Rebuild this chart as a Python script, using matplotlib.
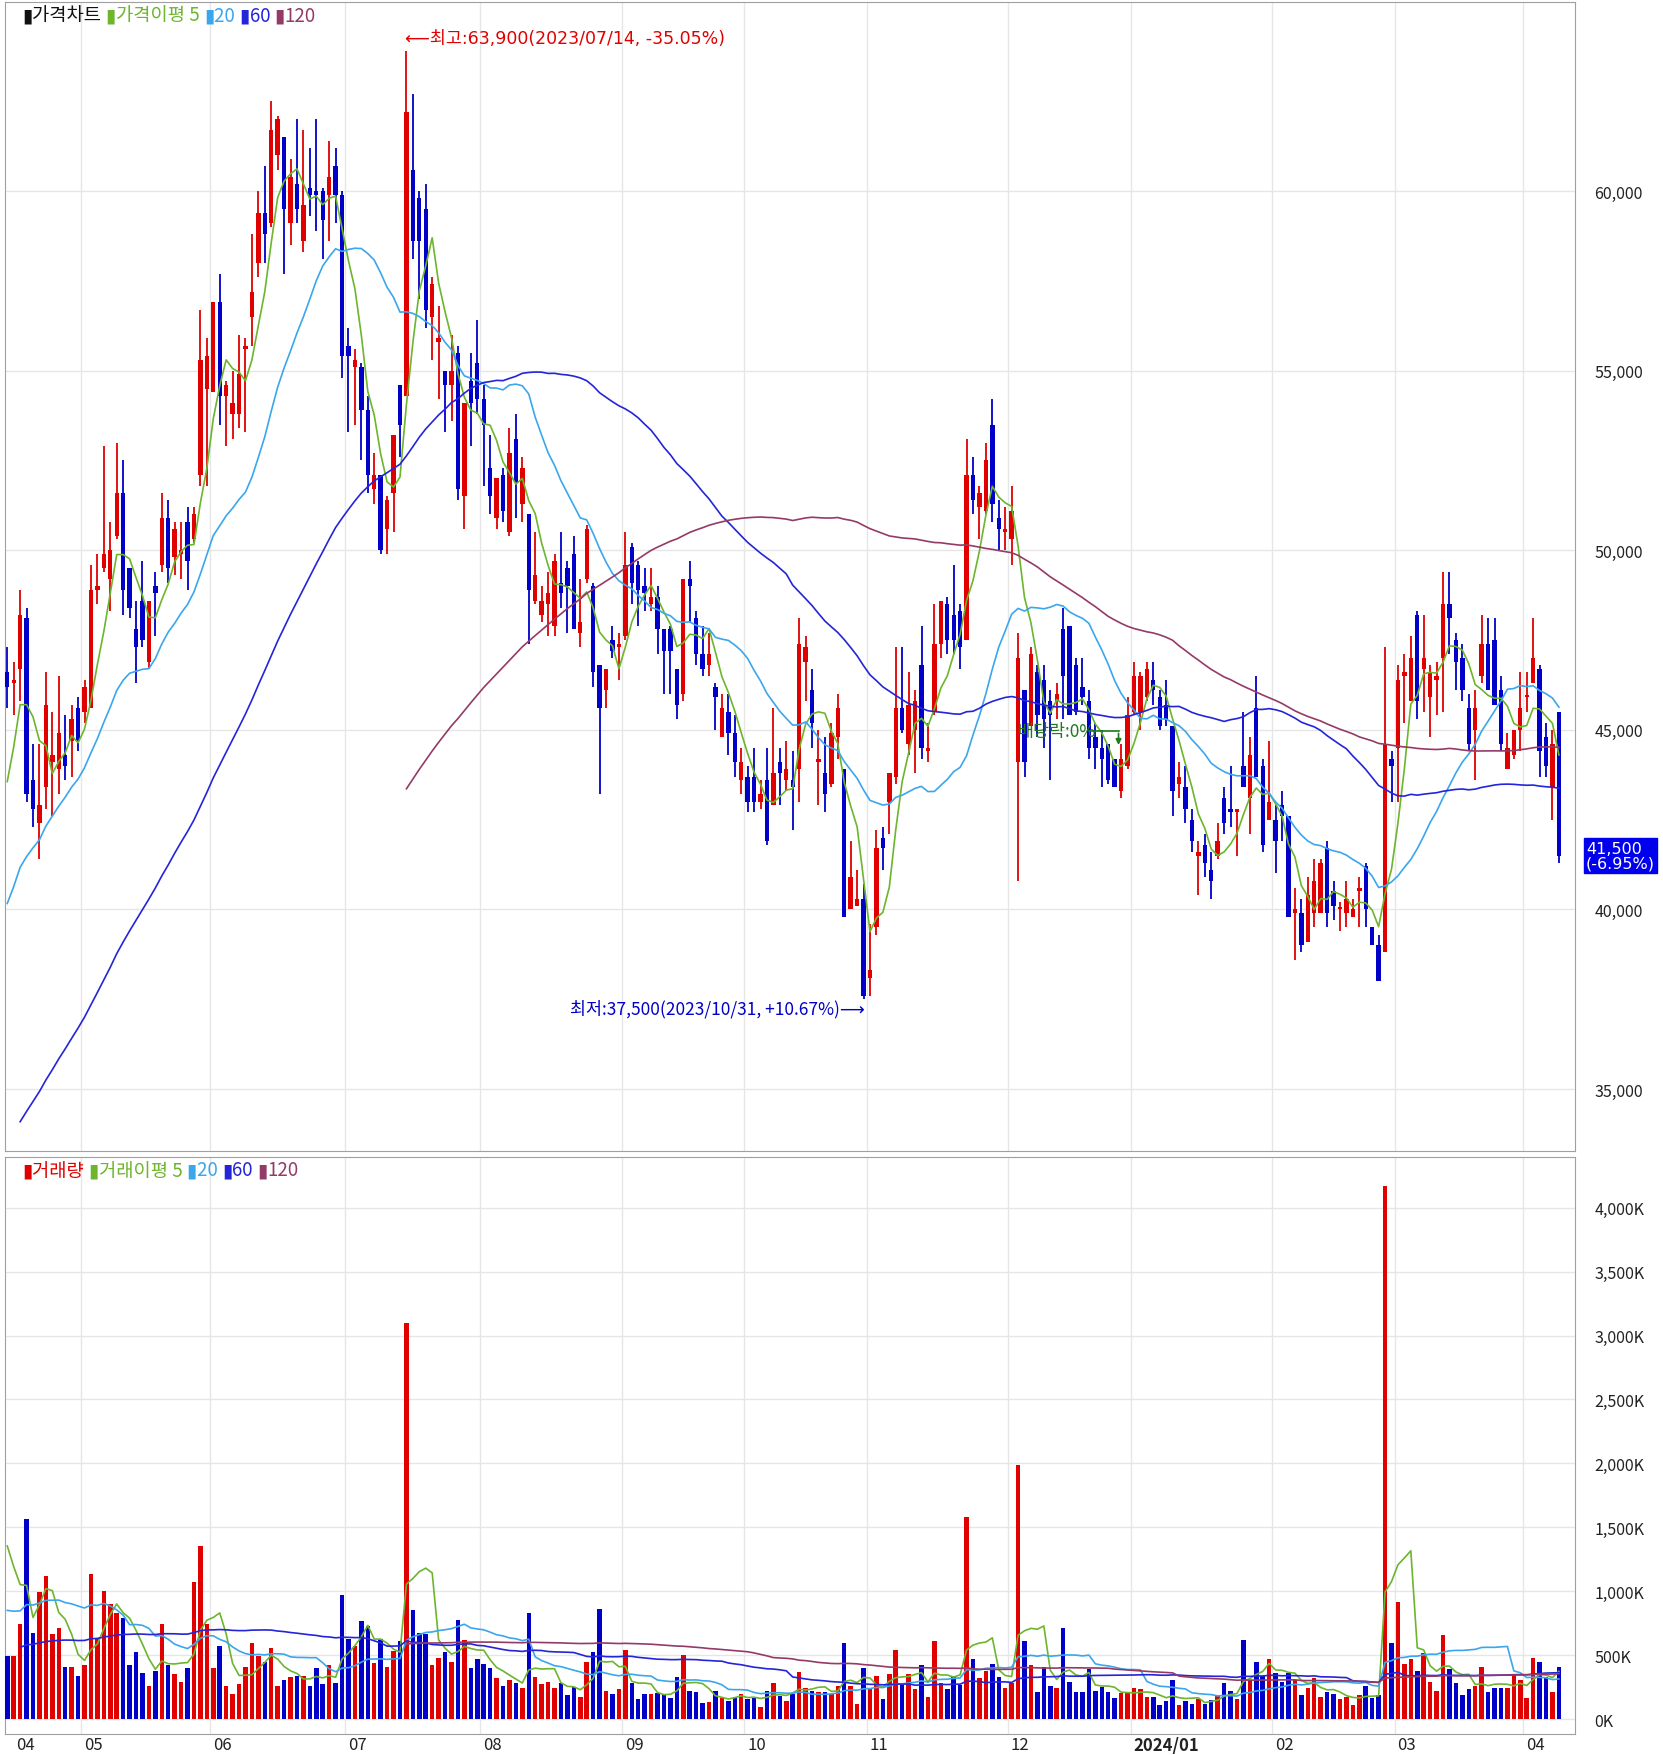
import matplotlib
matplotlib.use("Agg")
import matplotlib.pyplot as plt
import matplotlib.transforms as mtransforms
import numpy as np
import pandas as pd

plt.rcParams['font.family'] = ['Noto Sans CJK KR', 'DejaVu Sans']

# ---------------- data (prices in thousand KRW, volume in K shares) ----------------
pre_close = [26.0,26.3,26.1,26.6,27.0,26.8,27.3,27.7,27.5,28.0,28.4,28.2,28.8,29.1,28.9,29.4,29.8,29.6,30.1,30.5,
             30.3,30.8,31.2,31.0,31.5,31.9,31.7,32.2,32.6,32.4,32.9,33.3,33.1,33.6,34.0,33.8,34.3,34.7,
             37.0,37.5,37.2,37.9,38.4,38.1,38.8,39.3,39.0,39.7,40.2,39.9,40.6,41.1,40.8,41.6,42.3,43.2,44.5]
pre_volume = [350,420,380,460,390,410,300,440,520,370,360,450,400,380,430,470,350,390,410,440,
              380,360,420,400,450,390,370,410,430,380,420,400,440,390,410,370,430,420,
              620,700,580,750,660,720,640,690,800,610,680,730,650,710,690,1300,1450,1600,1930]

opens = [46.6,46.3,46.7,48.1,43.6,42.4,43.4,44.1,43.9,44.3,44.7,45.6,45.5,45.6,48.9,49.5,49.2,50.4,51.6,49.5,
 47.8,48.6,46.9,49.0,49.6,50.9,49.8,49.9,50.8,50.3,52.1,54.5,54.4,56.9,54.3,53.8,53.8,55.6,56.5,58.0,
 59.4,59.1,61.0,61.5,59.1,60.2,58.6,60.1,60.0,60.0,59.9,60.7,59.9,55.7,55.1,55.1,53.9,51.7,52.1,50.6,
 51.6,54.6,54.3,
 60.6,59.8,59.5,56.5,55.8,55.0,54.6,55.5,51.5,54.7,55.2,54.2,52.3,50.9,52.1,50.5,53.1,51.3,51.0,48.6,
 48.2,48.5,47.9,49.1,49.5,49.9,47.7,49.2,49.0,46.8,46.1,47.5,47.3,47.6,50.1,49.6,49.0,48.5,48.7,47.8,
 47.8,46.7,46.0,49.2,48.1,47.1,46.8,46.2,44.8,45.5,44.9,43.6,43.7,43.7,43.0,43.6,42.9,44.1,43.6,43.6,
 43.9,46.9,46.1,44.1,
 43.8,43.5,44.8,43.9,40.0,40.1,40.3,38.1,39.5,42.0,43.0,43.7,45.6,44.6,45.0,46.8,44.4,45.5,47.4,48.5,
 48.2,48.3,47.5,52.1,51.2,51.1,53.5,50.9,50.5,50.3,44.1,46.1,45.1,46.6,46.4,45.8,45.8,47.8,47.9,46.8,
 46.2,45.8,44.8,44.5,44.6,44.2,43.3,44.0,45.5,45.5,45.9,46.4,45.9,45.7,45.1,43.5,43.4,42.5,41.5,41.8,
 41.1,41.5,
 43.1,42.8,42.7,44.0,43.1,45.6,44.0,42.5,42.5,42.9,42.6,39.9,39.9,39.1,39.9,39.9,41.7,40.5,40.0,39.9,
 39.8,40.5,41.2,39.5,39.0,38.8,44.2,44.5,46.5,45.8,48.2,46.7,45.9,46.4,47.0,48.5,47.5,47.0,45.6,45.0,
 46.5,47.4,47.5,46.1,43.9,44.3,45.0,45.9,46.3,46.7,44.8,43.4,45.5]
highs = [47.3,46.9,48.9,48.4,44.6,44.6,46.6,45.5,46.5,45.4,45.7,45.9,46.4,49.6,49.9,52.9,50.8,53.0,52.5,49.5,
 48.6,49.7,48.6,49.4,51.6,51.4,50.8,50.8,51.2,51.2,56.7,55.9,56.9,57.7,54.7,55.0,56.0,55.9,58.8,60.0,
 60.7,62.5,62.1,61.5,60.9,62.0,61.7,61.2,62.0,60.1,61.4,61.2,60.0,56.2,55.6,55.2,54.3,52.7,52.1,51.5,
 53.2,54.6,63.9,
 62.7,60.0,60.2,57.6,56.8,55.0,56.0,55.7,54.1,55.5,56.4,54.6,53.2,52.0,52.3,53.4,53.8,52.6,51.0,50.5,
 49.0,49.4,49.9,50.5,49.7,50.4,49.2,50.7,49.1,46.8,46.7,47.9,47.7,50.5,50.2,49.7,49.5,49.5,49.0,47.8,
 47.9,46.7,49.2,49.7,48.3,47.9,47.7,46.3,46.0,46.0,45.4,44.5,44.0,44.5,43.6,44.5,45.6,44.5,44.7,44.4,
 48.1,47.6,46.7,45.0,
 44.8,45.2,46.0,43.9,41.9,41.1,40.7,39.6,42.2,42.3,43.8,47.3,47.3,46.6,46.1,47.9,45.2,48.5,48.6,48.7,
 49.6,48.5,53.1,52.6,51.8,53.0,54.2,51.4,51.2,51.8,47.7,46.1,47.3,46.8,46.8,46.1,46.3,48.4,47.9,47.0,
 47.0,46.1,45.2,45.0,44.6,44.2,44.6,45.9,46.9,46.6,46.9,46.9,46.1,46.4,45.1,44.1,44.0,42.8,41.9,42.1,
 41.6,42.4,
 43.4,44.0,42.8,45.5,44.8,46.5,44.2,44.7,42.9,43.3,42.6,40.6,40.3,40.9,41.4,41.4,41.9,40.8,40.2,40.8,
 40.3,40.9,41.3,39.5,39.3,47.3,44.4,46.8,47.1,47.6,48.3,48.2,46.8,46.9,49.4,49.4,47.7,47.4,46.0,46.1,
 48.2,48.1,48.1,46.5,44.9,45.0,46.6,46.6,48.1,46.8,45.2,45.0,45.5]
lows = [45.6,45.4,45.8,43.0,42.3,41.4,42.8,42.6,43.2,43.6,43.7,44.4,45.2,45.6,48.5,49.4,48.3,50.3,48.2,48.1,
 46.3,47.3,46.7,47.6,49.4,49.1,49.3,49.2,48.9,50.2,51.8,51.8,54.4,53.5,52.9,53.1,53.4,53.3,55.7,57.6,
 58.0,59.0,60.6,57.7,58.5,59.1,58.3,59.3,58.9,58.1,58.6,59.1,54.8,53.3,53.5,52.5,51.6,51.3,49.9,49.9,
 50.5,52.6,54.3,
 58.1,57.0,56.2,55.3,54.2,53.3,53.6,51.4,50.6,52.9,53.8,51.8,51.0,50.6,50.8,50.4,50.9,50.8,47.4,48.5,
 48.0,47.6,47.6,48.4,47.7,47.8,47.3,49.1,46.2,43.2,45.6,47.0,46.4,47.5,48.5,47.9,48.3,48.3,47.1,46.0,
 46.0,45.3,45.8,48.0,46.8,46.5,46.5,45.0,44.8,44.3,43.7,43.2,42.7,42.7,42.8,41.8,42.9,42.9,43.3,42.2,
 43.0,45.8,44.5,42.9,
 42.7,43.4,44.2,39.8,40.0,40.1,37.5,37.6,39.3,41.1,42.1,43.5,44.9,44.3,43.8,44.2,44.1,45.4,47.0,47.1,
 47.1,46.7,47.5,51.0,50.3,51.0,50.8,50.0,50.0,49.6,40.8,43.7,45.1,44.8,44.5,43.6,45.3,45.3,45.4,45.4,
 45.7,44.2,43.9,43.4,43.5,43.4,43.1,43.9,45.4,45.0,45.8,45.7,45.0,45.1,42.6,43.1,42.4,41.6,40.4,40.9,
 40.3,41.4,
 42.1,42.3,41.5,43.4,42.1,43.7,41.6,42.5,41.0,41.9,39.8,38.6,38.8,39.1,39.5,39.9,39.5,39.7,39.4,39.5,
 39.8,39.5,39.5,39.0,38.0,38.8,43.0,43.0,45.2,45.8,45.3,45.5,44.8,45.4,45.5,47.1,46.1,45.8,44.4,43.6,
 46.3,46.1,45.7,44.4,43.9,44.2,44.4,45.5,46.3,43.7,43.7,42.5,41.3]
closes = [46.2,46.4,48.2,43.2,42.8,42.9,45.7,44.3,44.9,44.0,45.3,44.7,46.2,48.9,49.0,49.9,50.0,51.6,48.9,48.4,
 47.3,47.5,48.6,48.8,50.9,49.5,50.6,50.0,49.7,51.0,55.3,55.4,56.9,54.3,54.6,54.1,54.9,55.7,57.2,59.4,
 58.8,61.7,62.0,59.5,60.4,59.5,59.6,59.9,59.9,59.2,60.4,59.9,55.4,55.4,55.3,53.9,52.1,52.1,50.0,51.4,
 53.2,53.5,62.2,
 58.6,58.6,56.7,57.4,55.9,54.6,55.0,51.7,54.1,54.1,54.2,53.5,51.5,52.0,51.1,52.7,51.9,52.3,48.9,49.3,
 48.6,48.8,49.7,48.8,49.0,47.8,48.0,50.6,46.6,45.6,46.7,47.2,47.4,49.6,49.1,48.9,48.8,48.7,47.8,47.2,
 47.2,45.7,49.2,49.0,47.1,46.7,47.1,45.9,45.6,44.9,44.1,44.1,43.0,43.0,43.2,41.9,43.8,43.8,43.9,43.4,
 47.4,47.3,45.2,44.2,
 43.2,44.9,45.6,39.8,40.9,40.3,37.6,38.3,41.7,41.7,43.8,45.6,45.0,45.7,45.8,44.5,44.5,47.4,48.6,47.5,
 47.5,47.3,52.1,51.4,51.6,52.5,51.3,50.6,50.6,51.1,47.0,44.1,47.1,45.4,45.3,45.4,46.0,46.5,45.4,45.5,
 45.9,44.5,44.5,44.2,43.6,43.4,44.2,45.4,46.5,46.5,46.7,46.1,45.1,45.3,43.3,43.7,42.8,41.9,41.6,41.3,
 40.8,41.9,
 42.4,42.7,42.8,43.4,44.3,43.7,41.8,43.0,41.9,42.6,39.8,40.0,39.0,40.4,40.8,41.3,39.9,40.1,40.0,40.3,
 40.0,40.6,40.0,39.0,38.0,44.6,44.0,46.4,46.6,47.0,45.8,47.0,46.6,46.5,48.5,48.1,46.9,46.1,44.6,45.6,
 47.4,46.1,45.7,44.6,44.5,45.0,45.6,45.9,47.0,44.4,44.0,44.6,41.5]
volume = [492,492,746,1567,676,992,1122,666,712,409,409,339,422,1132,635,1003,899,832,790,422,
 526,363,259,376,746,422,352,293,396,1075,1355,746,402,573,259,199,272,409,596,495,
 443,552,259,306,326,339,339,259,402,272,422,280,972,630,570,764,728,435,630,409,531,609,3100,
 850,676,668,422,479,526,443,772,622,396,469,433,402,319,259,306,280,246,829,329,
 272,293,246,280,189,254,176,443,526,863,223,199,236,539,280,153,199,199,205,199,
 168,329,500,223,212,122,130,223,163,145,176,199,158,176,96,223,280,181,142,194,370,246,223,210,
 210,194,259,596,259,119,396,236,339,153,352,539,267,352,236,422,176,609,280,236,
 339,267,1580,469,319,376,433,329,246,280,1990,609,422,212,409,259,246,712,293,212,
 212,391,223,254,212,163,202,202,246,233,176,176,106,142,306,106,142,119,158,119,150,189,
 280,223,153,622,306,443,339,469,363,293,363,306,189,246,319,176,212,199,153,176,
 106,189,259,163,189,4170,596,914,433,469,376,513,293,223,655,389,280,189,236,259,
 409,212,246,246,246,350,306,163,479,443,326,212,409]

month_pos = [1.0, 11.5, 31.5, 52.5, 73.5, 95.5, 114.5, 133.5, 155.5, 174.5, 196.5, 215.5, 235.5]
month_labels = ["04", "05", "06", "07", "08", "09", "10", "11", "12", "2024/01", "02", "03", "04"]
ma_periods = [5, 20, 60, 120]
ma_colors = ['#6cb52d', '#3aa6ee', '#2424d8', '#943a66']
RED, BLUE = '#e00000', '#0000c8'

# ---------------- derived ----------------
o = np.array(opens) * 1000; h = np.array(highs) * 1000
l = np.array(lows) * 1000; c = np.array(closes) * 1000
v = np.array(volume, dtype=float)
n = len(c); npre = len(pre_close)
x = np.arange(n)
all_c = pd.Series(np.concatenate([np.array(pre_close) * 1000, c]))
all_v = pd.Series(np.concatenate([np.array(pre_volume, dtype=float), v]))
up = c >= o
cols = np.where(up, RED, BLUE)

W, H = 1663, 1756
fig = plt.figure(figsize=(W / 100, H / 100), dpi=100)
fig.patch.set_facecolor('white')
axp = fig.add_axes([5 / W, 1 - 1152 / H, 1570 / W, 1149 / H])
axv = fig.add_axes([5 / W, 1 - 1735 / H, 1570 / W, 577 / H])

xl = (-0.35, 243.5)
for ax in (axp, axv):
    ax.set_xlim(*xl)
    ax.yaxis.tick_right()
    ax.tick_params(axis='y', length=0, labelsize=11.5, colors='#222222', pad=14)
    ax.tick_params(axis='x', length=0, labelbottom=False)
    for s in ax.spines.values():
        s.set_color('#a0a0a0')
    for mp in month_pos[1:]:
        ax.axvline(mp, color='#e6e6e6', lw=1, zorder=0)

# price panel
axp.set_ylim(33273, 65265)
pt = [35000, 40000, 45000, 50000, 55000, 60000]
axp.set_yticks(pt)
axp.set_yticklabels([f"{t:,}" for t in pt])
for t in pt:
    axp.axhline(t, color='#e6e6e6', lw=1, zorder=0)
axp.vlines(x, l, h, colors=cols, lw=1.3, zorder=3)
body_h = np.maximum(np.abs(c - o), 60)
axp.bar(x, body_h, bottom=np.minimum(o, c), width=0.68, color=cols, zorder=4, linewidth=0)
for p, col in zip(ma_periods, ma_colors):
    ma = all_c.rolling(p).mean().values[npre:]
    axp.plot(x, ma, color=col, lw=1.2, zorder=5)

# annotations
ih = int(np.argmax(h)); il = int(np.argmin(l))
axp.text(ih - 0.2, 64250, "⟵최고:63,900(2023/07/14, -35.05%)", color=RED, fontsize=12.5,
         ha='left', va='center', family=['DejaVu Sans', 'Noto Sans CJK KR'], zorder=6)
axp.text(il + 0.2, 37250, "최저:37,500(2023/10/31, +10.67%)⟶", color=BLUE, fontsize=12.5,
         ha='right', va='center', family=['Noto Sans CJK KR', 'DejaVu Sans'], zorder=6)
axp.text(157, 44970, "배당락:0%", color='#1e7a1e', fontsize=12.5, ha='left', va='center', zorder=6)
axp.annotate("", xy=(172.6, 44500), xytext=(172.6, 44980),
             arrowprops=dict(arrowstyle='-|>', color='#1e7a1e', lw=1.2, mutation_scale=8))
axp.plot([168.0, 172.6], [44980, 44980], color='#1e7a1e', lw=1.2, zorder=6)

trans = mtransforms.blended_transform_factory(axp.transAxes, axp.transData)
axp.text(1.007, c[-1], f"{c[-1]:,.0f}\n({(c[-1] / c[-2] - 1) * 100:.2f}%)",
         transform=trans, color='white', fontsize=11.5, ha='left', va='center', linespacing=1.0,
         family=['DejaVu Sans'],
         bbox=dict(boxstyle='square,pad=0.15', facecolor='#0000ee', edgecolor='#0000ee'), clip_on=False)

# volume panel
axv.set_ylim(-117, 4397)
vt = list(range(0, 4001, 500))
axv.set_yticks(vt)
axv.set_yticklabels([f"{t:,}K" for t in vt])
for t in vt:
    axv.axhline(t, color='#e6e6e6', lw=1, zorder=0)
axv.bar(x, v, width=0.7, color=cols, zorder=3, linewidth=0)
for p, col in zip(ma_periods, ma_colors):
    ma = all_v.rolling(p).mean().values[npre:]
    axv.plot(x, ma, color=col, lw=1.2, zorder=4)

# month labels
tb = mtransforms.blended_transform_factory(axv.transData, fig.transFigure)
for mp, lab in zip(month_pos, month_labels):
    axv.text(mp + 0.4, 1 - 1746 / H, lab, transform=tb, fontsize=12, ha='left', va='center',
             color='#222222', fontweight='bold' if lab.startswith('2024') else 'normal', clip_on=False)

# legends
renderer = fig.canvas.get_renderer()
def legend(y_px, parts):
    xpx = 22
    for txt, col in parts:
        t = fig.text(xpx / W, 1 - y_px / H, txt, color=col, fontsize=13.5, ha='left', va='center')
        bb = t.get_window_extent(renderer=renderer)
        xpx += bb.width
legend(16, [("▮", '#111111'), ("가격차트 ", '#111111'), ("▮", ma_colors[0]), ("가격이평 5 ", ma_colors[0]),
            ("▮", ma_colors[1]), ("20 ", ma_colors[1]), ("▮", ma_colors[2]), ("60 ", ma_colors[2]),
            ("▮", ma_colors[3]), ("120", ma_colors[3])])
legend(1171, [("▮", RED), ("거래량 ", RED), ("▮", ma_colors[0]), ("거래이평 5 ", ma_colors[0]),
              ("▮", ma_colors[1]), ("20 ", ma_colors[1]), ("▮", ma_colors[2]), ("60 ", ma_colors[2]),
              ("▮", ma_colors[3]), ("120", ma_colors[3])])

fig.savefig("out.png", dpi=100, facecolor='white')
